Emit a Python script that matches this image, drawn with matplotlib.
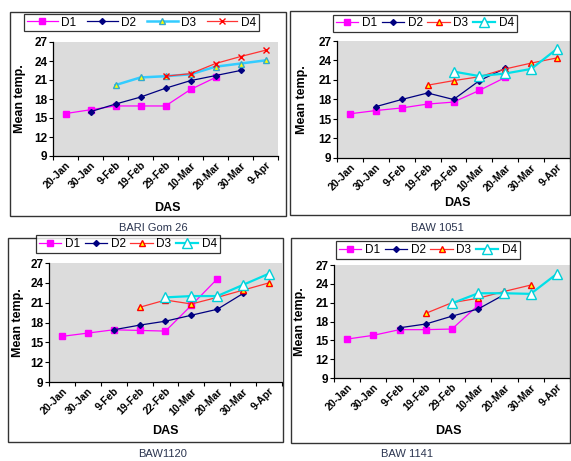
import numpy as np
import matplotlib
matplotlib.use("Agg")
import matplotlib.pyplot as plt
from matplotlib.patches import Rectangle

plt.rcParams['font.family'] = ['Liberation Sans', 'DejaVu Sans']

nan = np.nan
dates_a = ["20-Jan", "30-Jan", "9-Feb", "19-Feb", "29-Feb", "10-Mar", "20-Mar", "30-Mar", "9-Apr"]
dates_c = ["20-Jan", "30-Jan", "9-Feb", "19-Feb", "22-Feb", "10-Mar", "20-Mar", "30-Mar", "9-Apr"]
series_names = ["D1", "D2", "D3", "D4"]

# BARI Gom 26
p1_d1 = [15.7, 16.3, 16.9, 16.9, 16.9, 19.5, 21.4, nan, nan]
p1_d2 = [nan, 16.0, 17.2, 18.3, 19.7, 20.9, 21.7, 22.5, nan]
p1_d3 = [nan, nan, 20.2, 21.4, 21.6, 21.9, 23.1, 23.6, 24.1]
p1_d4 = [nan, nan, nan, nan, 21.6, 22.0, 23.6, 24.7, 25.7]
# BAW 1051
p2_d1 = [15.8, 16.3, 16.7, 17.3, 17.6, 19.4, 21.4, nan, nan]
p2_d2 = [nan, 16.9, 18.0, 19.0, 18.0, 20.9, 22.8, nan, nan]
p2_d3 = [nan, nan, nan, 20.2, 20.9, 21.5, 22.7, 23.6, 24.4]
p2_d4 = [nan, nan, nan, nan, 22.3, 21.6, 22.0, 22.7, 25.8]
# BAW1120
p3_d1 = [15.9, 16.4, 16.9, 16.8, 16.7, 20.6, 24.6, nan, nan]
p3_d2 = [nan, nan, 16.9, 17.6, 18.2, 19.1, 20.0, 22.4, nan]
p3_d3 = [nan, nan, nan, 20.3, 21.4, 20.8, 21.8, 22.9, 24.0]
p3_d4 = [nan, nan, nan, nan, 21.8, 22.0, 22.0, 23.7, 25.4]
# BAW 1141
p4_d1 = [15.2, 15.8, 16.7, 16.7, 16.8, 20.6, nan, nan, nan]
p4_d2 = [nan, nan, 17.0, 17.6, 18.85, 20.0, 22.3, nan, nan]
p4_d3 = [nan, nan, nan, 19.3, 21.0, 21.7, 22.8, 23.8, nan]
p4_d4 = [nan, nan, nan, nan, 20.9, 22.5, 22.5, 22.4, 25.6]

captions = ["BARI Gom 26", "BAW 1051", "BAW1120", "BAW 1141"]

W, H = 571, 461
fig = plt.figure(figsize=(W / 100, H / 100), dpi=100)

def fr(x0, y0, x1, y1):
    return [x0 / W, 1 - y1 / H, (x1 - x0) / W, (y1 - y0) / H]

style_D1 = dict(color='#ff00ff', marker='s', ms=4.5, mfc='#ff00ff', mec='#ff00ff', lw=0.9)
style_D2 = dict(color='#000080', marker='D', ms=3, mfc='#000080', mec='#000080', lw=0.9)
style_tri_cyan = dict(color='#33ccff', marker='^', ms=5, mfc='#ffff00', mec='#33aacc', lw=1.8)
style_x_red = dict(color='#ff3333', marker='x', ms=4.5, mec='#ff0000', lw=0.9)
style_tri_red = dict(color='#ff3333', marker='^', ms=5, mfc='#ffff00', mec='#ff0000', lw=0.9)
style_tri_open = dict(color='#00e0e8', marker='^', ms=7, mfc='white', mec='#00d0d8', lw=1.6)

panels = [
    dict(frame=(10, 12, 286, 216), ax=(53, 42, 278, 156), leg=(26, 13, 257, 32),
         ylab_x=20, das=(167, 208), cap=(153, 228), labels=dates_a, hl=2.6, cs=0.9,
         data=[p1_d1, p1_d2, p1_d3, p1_d4],
         styles=[style_D1, style_D2, style_tri_cyan, style_x_red]),
    dict(frame=(290, 11, 570, 215), ax=(337, 41, 570, 158), leg=(326, 13, 524, 34),
         ylab_x=302, das=(457, 203), cap=(437, 228), labels=dates_a, hl=1.9, cs=0.4,
         data=[p2_d1, p2_d2, p2_d3, p2_d4],
         styles=[style_D1, style_D2, style_tri_red, style_tri_open]),
    dict(frame=(8, 238, 283, 442), ax=(49, 263, 282, 382), leg=(32, 233, 224, 255),
         ylab_x=18, das=(165, 431), cap=(163, 454), labels=dates_c, hl=1.9, cs=0.4,
         data=[p3_d1, p3_d2, p3_d3, p3_d4],
         styles=[style_D1, style_D2, style_tri_red, style_tri_open]),
    dict(frame=(291, 238, 570, 443), ax=(334, 265, 570, 378), leg=(332, 240, 524, 260),
         ylab_x=300, das=(448, 431), cap=(407, 454), labels=dates_a, hl=1.9, cs=0.4,
         data=[p4_d1, p4_d2, p4_d3, p4_d4],
         styles=[style_D1, style_D2, style_tri_red, style_tri_open]),
]

x = np.arange(9)
for i, p in enumerate(panels):
    fx0, fy0, fx1, fy1 = p['frame']
    fig.patches.append(Rectangle((fx0 / W, 1 - fy1 / H), (fx1 - fx0) / W, (fy1 - fy0) / H,
                                 transform=fig.transFigure, fill=False, ec='#333333', lw=1.0))
    ax = fig.add_axes(fr(*p['ax']))
    ax.set_facecolor('#dcdcdc')
    handles = []
    for name, vals, st in zip(series_names, p['data'], p['styles']):
        h, = ax.plot(x, vals, label=name, **st)
        handles.append(h)
    ax.set_xlim(-0.5, 8.5)
    ax.set_ylim(9, 27)
    ax.set_yticks(np.arange(9, 28, 3))
    ax.tick_params(axis='y', labelsize=8.5, length=3, width=0.8, pad=1)
    for t in ax.get_yticklabels():
        t.set_fontweight('bold')
    ax.set_xticks(np.arange(-0.5, 9, 1))
    ax.set_xticklabels([])
    ax.set_xticks(x, minor=True)
    ax.set_xticklabels(p['labels'], minor=True, rotation=45, ha='right', va='top',
                       rotation_mode='anchor', fontsize=7.5, fontweight='bold')
    ax.tick_params(axis='x', which='major', length=3, width=0.8)
    ax.tick_params(axis='x', which='minor', length=0, pad=3)
    ax.spines['top'].set_visible(False)
    ax.spines['right'].set_visible(False)
    ax.spines['left'].set_linewidth(0.9)
    ax.spines['bottom'].set_linewidth(0.9)
    ax0, ay0, ax1, ay1 = p['ax']
    fig.text(p['ylab_x'] / W, 1 - ((ay0 + ay1) / 2) / H, "Mean temp.", rotation=90,
             ha='center', va='center', fontsize=9, fontweight='bold')
    fig.text(p['das'][0] / W, 1 - p['das'][1] / H, "DAS", ha='center', va='center',
             fontsize=9, fontweight='bold')
    fig.text(p['cap'][0] / W, 1 - p['cap'][1] / H, captions[i], ha='center', va='center',
             fontsize=8, color='#2b3550')
    lx0, ly0, lx1, ly1 = p['leg']
    leg = fig.legend(handles=handles, loc='center', ncol=4,
                     bbox_to_anchor=(((lx0 + lx1) / 2) / W, 1 - ((ly0 + ly1) / 2) / H),
                     bbox_transform=fig.transFigure, fontsize=8.5, frameon=True,
                     fancybox=False, edgecolor='black', handlelength=p['hl'],
                     handletextpad=0.3, columnspacing=p['cs'], borderpad=0.25)
    leg.get_frame().set_linewidth(0.9)

fig.savefig("out.png", dpi=100)
